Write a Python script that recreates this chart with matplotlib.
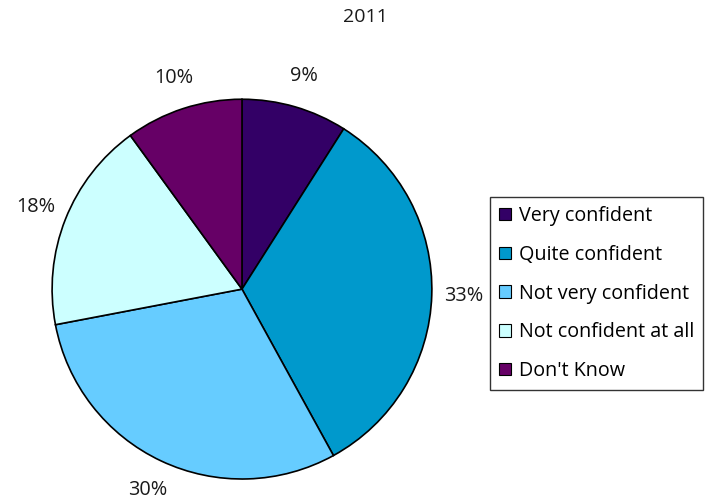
import matplotlib
matplotlib.use("Agg")
import matplotlib.pyplot as plt
import numpy as np

plt.rcParams['font.family'] = ['Open Sans', 'DejaVu Sans']

title = "2011"
categories = ["Very confident", "Quite confident", "Not very confident",
              "Not confident at all", "Don't Know"]
values = [9, 33, 30, 18, 10]
colors = ["#330066", "#0099CC", "#66CCFF", "#CCFFFF", "#660066"]

fig = plt.figure(figsize=(7.09, 5.03), dpi=100)
ax = fig.add_axes([0.0733, 0.0477, 0.536, 0.755])
wedges, texts = ax.pie(values, colors=colors, startangle=90, counterclock=False,
                       labels=[f"{v}%" for v in values], labeldistance=1.17,
                       wedgeprops=dict(edgecolor="black", linewidth=1.2),
                       textprops=dict(fontsize=14.3, color="#1a1a1a"))
for t in texts:
    t.set_ha("center")
    t.set_va("center")
ax.set_aspect("equal")
ax.set_xlim(-1, 1)
ax.set_ylim(-1, 1)

fig.text(0.515, 0.966, title, ha="center", va="center", fontsize=14, color="#1a1a1a")

leg = fig.legend(wedges, categories, loc="upper left",
                 bbox_to_anchor=(0.691, 0.608), frameon=True, fancybox=False,
                 edgecolor="black", fontsize=14.2, handlelength=0.6, handleheight=0.6,
                 labelspacing=0.95, handletextpad=0.4, borderpad=0.45, borderaxespad=0)
leg.get_frame().set_linewidth(1.0)
for h in leg.legend_handles:
    h.set_linewidth(0.8)

fig.savefig("out.png", dpi=100)
